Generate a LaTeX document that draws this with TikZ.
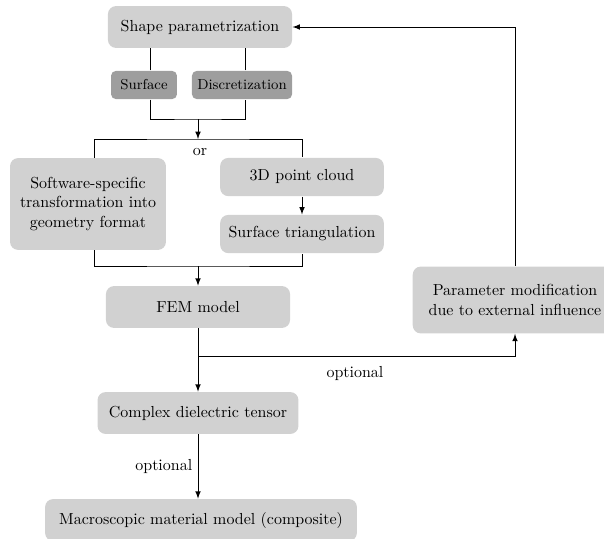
\documentclass[tikz,border=0pt]{standalone}
\begin{document}
\begin{tikzpicture}[x=0.022cm, y=-0.022cm, semithick, >=latex,
  box/.style={fill=black!18, rounded corners=5pt, align=center, minimum height=0.92cm},
  subbox/.style={fill=black!38, rounded corners=3pt, font=\small, minimum height=0.62cm}]
  \useasboundingbox (0, 0) rectangle (604, 538);

  % parametrisation
  \node[box, minimum width=4.05cm] (shape) at (200, 27) {Shape parametrization};
  \node[subbox, minimum width=1.45cm] (surf) at (144, 85) {Surface};
  \node[subbox, minimum width=2.2cm] (disc) at (242, 85) {Discretization};

  % geometry
  \node[box, minimum width=3.43cm, minimum height=2.02cm] (soft) at (88, 204)
    {Software-specific\\ transformation into\\ geometry format};
  \node[box, minimum width=3.6cm, minimum height=0.84cm] (cloud) at (302, 177) {3D point cloud};
  \node[box, minimum width=3.6cm, minimum height=0.84cm] (tri) at (302, 234) {Surface triangulation};
  \node (or) at (200, 152) {or};

  % model
  \node[box, minimum width=4.05cm] (fem) at (198, 307) {FEM model};
  \node[box, minimum width=4.5cm, minimum height=1.47cm] (param) at (515, 300)
    {Parameter modification\\ due to external influence};
  \node[box, minimum width=4.42cm] (tensor) at (198, 413) {Complex dielectric tensor};
  \node[box, minimum width=6.86cm] (macro) at (201, 520) {Macroscopic material model (composite)};
  \node (opt) at (355, 373) {optional};

  \coordinate (merge) at (198, 119);
  \coordinate (split) at (198, 139);
  \coordinate (fuse) at (198, 266);
  \coordinate (branch) at (198, 356);

  \draw ([xshift=4pt]surf.north) -- ([xshift=4pt]surf.north |- shape.south);
  \draw ([xshift=2pt]disc.north) -- ([xshift=2pt]disc.north |- shape.south);
  \draw ([xshift=4pt]surf.south) |- (merge) -| ([xshift=2pt]disc.south);
  \draw[->] (merge) -- (split);
  \draw ([xshift=4pt]soft.north) |- (split) -| (cloud.north);
  \draw[->] (cloud) -- (tri);
  \draw ([xshift=4pt]soft.south) |- (fuse) -| (tri.south);
  \draw[->] (fuse) -- (fem);
  \draw[->] (fem) -- (tensor);
  \draw[->] (branch) -| (param.south);
  \draw[->] (param.north) |- (shape.east);
  \draw[->] (tensor.south) -- node[left] {optional} (tensor.south |- macro.north);
\end{tikzpicture}
\end{document}
